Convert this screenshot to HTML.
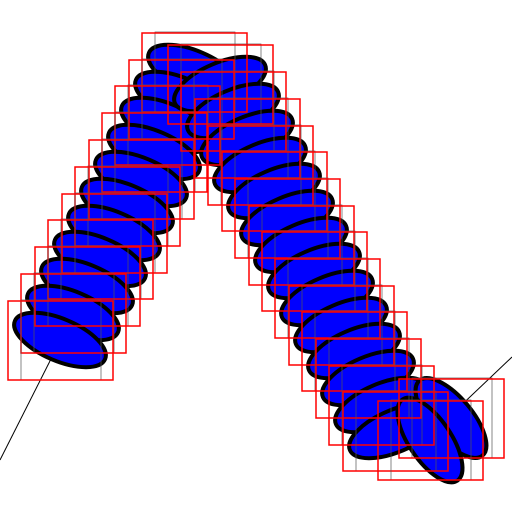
<!DOCTYPE html>
<html><head><meta charset="utf-8"><style>html,body{margin:0;padding:0;background:#fff}svg{display:block}</style></head>
<body>
<svg id="chart" width="512" height="512" viewBox="0 0 512 512" xmlns="http://www.w3.org/2000/svg">
<line x1="0" y1="460" x2="53" y2="355" stroke="#000" stroke-width="1"/>
<line x1="412" y1="452" x2="512" y2="357" stroke="#000" stroke-width="1"/>
<g id="marks"></g>
</svg>
<script>
const leftX = [60, 73, 87, 100, 114, 127, 141, 154, 167, 181, 194];
const leftY = [340, 313, 286, 259, 233, 206, 179, 152, 125, 99, 72];
const rightX = [220, 233, 247, 260, 274, 287, 301, 314, 327, 341, 354, 368, 381, 395];
const rightY = [84, 111, 138, 165, 191, 218, 245, 271, 298, 325, 351, 378, 405, 431];
const extraX = [451, 430];
const extraY = [418, 440];
const extraAngle = [50, 56];
const NS = 'http://www.w3.org/2000/svg';
const g = document.getElementById('marks');
const boxes = [];
function ellipse(cx, cy, ang, name) {
  const e = document.createElementNS(NS, 'ellipse');
  e.setAttribute('cx', cx); e.setAttribute('cy', cy);
  e.setAttribute('rx', 49); e.setAttribute('ry', 21);
  e.setAttribute('transform', 'rotate(' + ang + ' ' + cx + ' ' + cy + ')');
  e.setAttribute('fill', '#0000ff'); e.setAttribute('stroke', '#000'); e.setAttribute('stroke-width', '4');
  
  
  g.appendChild(e);
  boxes.push([cx, cy]);
}
for (let i = leftX.length - 1; i >= 0; i--) ellipse(leftX[i], leftY[i], 23, 'left-arm-ellipse');
for (let i = 0; i < rightX.length; i++) ellipse(rightX[i], rightY[i], -23, 'right-arm-ellipse');
for (let i = 0; i < extraX.length; i++) ellipse(extraX[i], extraY[i], extraAngle[i], 'tilted-ellipse');
boxes.forEach((b, i) => {
  const gr = document.createElementNS(NS, 'rect');
  gr.setAttribute('x', b[0] - 39); gr.setAttribute('y', b[1] - 40);
  gr.setAttribute('width', 80); gr.setAttribute('height', 80);
  gr.setAttribute('fill', 'none'); gr.setAttribute('stroke', '#555'); gr.setAttribute('stroke-width', '0.7');
  
  
  g.appendChild(gr);
  const r = document.createElementNS(NS, 'rect');
  r.setAttribute('x', b[0] - 52); r.setAttribute('y', b[1] - 39);
  r.setAttribute('width', 105); r.setAttribute('height', 79);
  r.setAttribute('fill', 'none'); r.setAttribute('stroke', '#ff0000'); r.setAttribute('stroke-width', '1.5');
  
  
  g.appendChild(r);
});
</script>
</body></html>
